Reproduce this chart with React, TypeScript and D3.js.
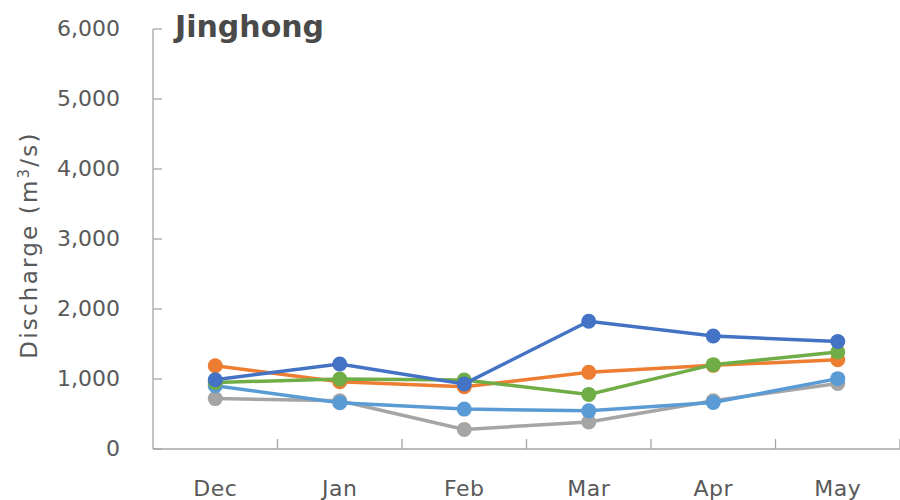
import React from "react";
import * as d3 from "d3";

const categories = ["Dec", "Jan", "Feb", "Mar", "Apr", "May"];
const yTicks = [0, 1000, 2000, 3000, 4000, 5000, 6000];
const seriesNames = ["S1", "S2", "S3", "S4", "S5"];
const s1 = [990, 1215, 930, 1825, 1615, 1535];
const s2 = [1190, 960, 890, 1095, 1195, 1275];
const s3 = [950, 1000, 985, 780, 1205, 1385];
const s4 = [905, 660, 570, 545, 665, 1005];
const s5 = [720, 690, 280, 385, 690, 935];
const colors = ["#4472C4", "#ED7D31", "#70AD47", "#5B9BD5", "#A5A5A5"];

const W = 900;
const H = 500;
const left = 153;
const right = 900;
const top = 29;
const bottom = 449;
const FONT = "'DejaVu Sans', sans-serif";

export default function App() {
  const x = d3.scaleBand<string>().domain(categories).range([left, right]);
  const y = d3.scaleLinear().domain([0, 6000]).range([bottom, top]);
  const fmt = d3.format(",");
  const line = d3
    .line<number>()
    .x((_, i) => (x(categories[i]) as number) + x.bandwidth() / 2)
    .y((d) => y(d));
  const all = [s1, s2, s3, s4, s5];
  const order = [4, 3, 1, 2, 0];
  const axisColor = "#A6A6A6";
  const textColor = "#595959";
  return (
    <svg width={W} height={H} style={{ position: "absolute", left: 0, top: 0 }}>
      <rect x={0} y={0} width={W} height={H} fill="#fff" />
      <line x1={left} x2={left} y1={top} y2={bottom} stroke={axisColor} strokeWidth={1.3} />
      {yTicks.map((t) => (
        <g key={t}>
          <line x1={left} x2={left + 9} y1={y(t)} y2={y(t)} stroke={axisColor} strokeWidth={1.3} />
          <text
            x={120}
            y={y(t)}
            dy="0.3em"
            textAnchor="end"
            fontFamily={FONT}
            fontSize={22}
            fill={textColor}
          >
            {fmt(t)}
          </text>
        </g>
      ))}
      <line x1={left} x2={right} y1={bottom} y2={bottom} stroke={axisColor} strokeWidth={1.3} />
      {categories.map((c) => (
        <g key={c}>
          <line
            x1={(x(c) as number) + x.bandwidth()}
            x2={(x(c) as number) + x.bandwidth()}
            y1={bottom}
            y2={bottom - 10}
            stroke={axisColor}
            strokeWidth={1.3}
          />
          <text
            x={(x(c) as number) + x.bandwidth() / 2}
            y={488}
            dy="0.35em"
            textAnchor="middle"
            fontFamily={FONT}
            fontSize={22}
            letterSpacing={0.5}
            fill={textColor}
          >
            {c}
          </text>
        </g>
      ))}
      <text
        transform={`translate(37,245) rotate(-90)`}
        textAnchor="middle"
        fontFamily={FONT}
        fontSize={23}
        letterSpacing={2.2}
        fill={textColor}
      >
        Discharge (m<tspan dy="-8" fontSize={15}>3</tspan>
        <tspan dy="8">/s)</tspan>
      </text>
      <text x={175} y={37} fontFamily={FONT} fontSize={30} fontWeight="bold" fill="#4a4a4a">
        Jinghong
      </text>
      {order.map((k) => (
        <g key={seriesNames[k]}>
          <path d={line(all[k]) || ""} fill="none" stroke={colors[k]} strokeWidth={3.5} />
          {all[k].map((v, i) => (
            <circle
              key={i}
              cx={(x(categories[i]) as number) + x.bandwidth() / 2}
              cy={y(v)}
              r={7.5}
              fill={colors[k]}
            />
          ))}
        </g>
      ))}
    </svg>
  );
}
